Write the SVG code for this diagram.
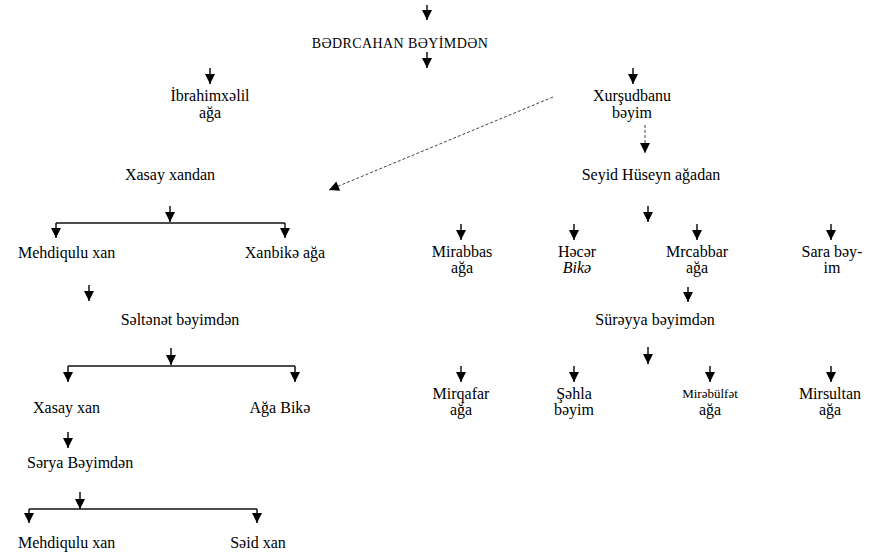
<svg xmlns="http://www.w3.org/2000/svg" width="879" height="552" viewBox="0 0 879 552">
<style>
text{font-family:"Liberation Serif","Times New Roman",serif;font-size:16px;fill:#000;text-anchor:middle}
.l{text-anchor:start}
.t{font-size:14px;letter-spacing:0.4px}
.s{font-size:13px}
.c{stroke:#111;stroke-width:1.5;fill:none}
.d{stroke:#444;stroke-width:1;fill:none;stroke-dasharray:3 2}
</style>
<defs>
<marker id="a" viewBox="0 -5 10 10" refX="10" refY="0" markerWidth="11" markerHeight="10" markerUnits="userSpaceOnUse" orient="auto"><path d="M0,-5 L10,0 L0,5 z" fill="#000"/></marker>
</defs>
<rect width="879" height="552" fill="#fff"/>
<g id="connectors">
<path class="c" d="M427,5 V20" marker-end="url(#a)"/>
<path class="c" d="M427,52 V68" marker-end="url(#a)"/>
<path class="c" d="M210,68 V84" marker-end="url(#a)"/>
<path class="c" d="M633,68 V84" marker-end="url(#a)"/>
<path class="d" d="M645,125 V153" marker-end="url(#a)"/>
<path class="d" d="M553,97 L329,190" marker-end="url(#a)"/>
<path class="c" d="M170,206 V222" marker-end="url(#a)"/>
<path class="c" d="M56,223 H285"/>
<path class="c" d="M56,223 V238" marker-end="url(#a)"/>
<path class="c" d="M285,223 V238" marker-end="url(#a)"/>
<path class="c" d="M89,285 V301" marker-end="url(#a)"/>
<path class="c" d="M171,348 V365" marker-end="url(#a)"/>
<path class="c" d="M68,366 H295"/>
<path class="c" d="M68,366 V382" marker-end="url(#a)"/>
<path class="c" d="M295,366 V382" marker-end="url(#a)"/>
<path class="c" d="M68,432 V448" marker-end="url(#a)"/>
<path class="c" d="M80,492 V509" marker-end="url(#a)"/>
<path class="c" d="M29,509 H257"/>
<path class="c" d="M29,509 V523" marker-end="url(#a)"/>
<path class="c" d="M257,509 V523" marker-end="url(#a)"/>
<path class="c" d="M648,206 V222" marker-end="url(#a)"/>
<path class="c" d="M461,224 V240" marker-end="url(#a)"/>
<path class="c" d="M574,224 V240" marker-end="url(#a)"/>
<path class="c" d="M697,224 V240" marker-end="url(#a)"/>
<path class="c" d="M831,224 V240" marker-end="url(#a)"/>
<path class="c" d="M688,287 V302" marker-end="url(#a)"/>
<path class="c" d="M648,347 V364" marker-end="url(#a)"/>
<path class="c" d="M461,366 V382" marker-end="url(#a)"/>
<path class="c" d="M574,366 V382" marker-end="url(#a)"/>
<path class="c" d="M710,366 V382" marker-end="url(#a)"/>
<path class="c" d="M831,366 V382" marker-end="url(#a)"/>
</g>
<g id="n-bedrcahan"><text class="t" x="400" y="48">BƏDRCAHAN BƏYİMDƏN</text></g>
<g id="n-ibrahim"><text x="210" y="101">İbrahimxəlil</text><text x="210" y="118">ağa</text></g>
<g id="n-xursud"><text x="632" y="101">Xurşudbanu</text><text x="632" y="118">bəyim</text></g>
<g id="n-xasay-xandan"><text x="170" y="180">Xasay xandan</text></g>
<g id="n-seyid"><text x="651" y="180">Seyid Hüseyn ağadan</text></g>
<g id="n-mehdiqulu1"><text class="l" x="18" y="258">Mehdiqulu xan</text></g>
<g id="n-xanbike"><text x="285" y="258">Xanbikə ağa</text></g>
<g id="n-seltenet"><text x="180" y="325">Səltənət bəyimdən</text></g>
<g id="n-xasay-xan"><text class="l" x="33" y="413">Xasay xan</text></g>
<g id="n-aga-bike"><text x="280" y="413">Ağa Bikə</text></g>
<g id="n-serye"><text class="l" x="27" y="468">Sərya Bəyimdən</text></g>
<g id="n-mehdiqulu2"><text class="l" x="18" y="548">Mehdiqulu xan</text></g>
<g id="n-seid"><text x="258" y="548">Səid xan</text></g>
<g id="n-mirabbas"><text x="462" y="257">Mirabbas</text><text x="462" y="273">ağa</text></g>
<g id="n-hecer"><text x="577" y="257">Həcər</text><text x="577" y="273" font-style="italic">Bikə</text></g>
<g id="n-mrcabbar"><text x="697" y="257">Mrcabbar</text><text x="697" y="273">ağa</text></g>
<g id="n-sara"><text x="832" y="257">Sara bəy-</text><text x="832" y="273">im</text></g>
<g id="n-sureyya"><text x="655" y="325">Sürəyya bəyimdən</text></g>
<g id="n-mirqafar"><text x="461" y="399">Mirqafar</text><text x="461" y="415">ağa</text></g>
<g id="n-sehla"><text x="574" y="399">Şəhla</text><text x="574" y="415">bəyim</text></g>
<g id="n-mirebulfet"><text class="s" x="710" y="398">Mirəbülfət</text><text x="710" y="415">ağa</text></g>
<g id="n-mirsultan"><text x="830" y="399">Mirsultan</text><text x="830" y="415">ağa</text></g>
</svg>
